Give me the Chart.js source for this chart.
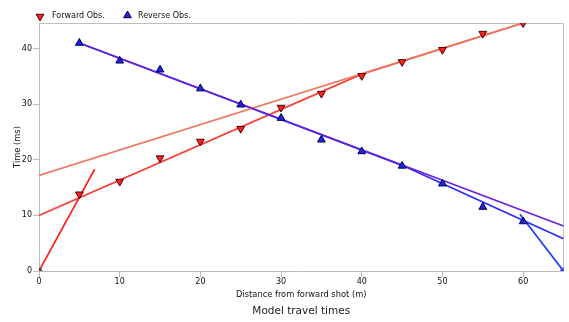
<!DOCTYPE html>
<html>
<head>
<meta charset="utf-8">
<title>Model travel times</title>
<script src="https://cdn.jsdelivr.net/npm/chart.js@4.4.0/dist/chart.umd.min.js"></script>
<style>
    html, body { margin: 0; padding: 0; background: #fff; }
    #chartContainer { width: 569px; height: 322px; }
</style>
</head>
<body>
<div id="chartContainer"><canvas id="myChart" width="569" height="322"></canvas></div>
<script>
// observed first arrivals (offset in m, time in ms)
const forwardOffsets = [5, 10, 15, 20, 25, 30, 35, 40, 45, 50, 55, 60];
const forwardTimes = [13.8, 16.1, 20.3, 23.3, 25.6, 29.4, 31.9, 35.1, 37.6, 39.8, 42.7, 44.6];
const reverseOffsets = [5, 10, 15, 20, 25, 30, 35, 40, 45, 50, 55, 60];
const reverseTimes = [41.0, 37.8, 36.2, 32.8, 29.9, 27.5, 23.6, 21.5, 18.9, 15.7, 11.5, 8.9];

// shot positions
const shotOffsets = [0, 65];
const shotTimes = [0, 0];

// model travel time curves
const fwdDirectX = [0, 6.9];
const fwdDirectT = [0, 18.3];
const fwdLayer1X = [0, 40, 60];
const fwdLayer1T = [10, 35.4, 44.6];
const fwdLayer2X = [0, 60];
const fwdLayer2T = [17.2, 44.6];
const revDirectX = [65, 59.6];
const revDirectT = [0, 10.2];
const revLayer1X = [5, 45, 65];
const revLayer1T = [41, 19.0, 5.8];
const revLayer2X = [5, 65];
const revLayer2T = [41, 8.1];

const xTicks = [0, 10, 20, 30, 40, 50, 60];
const yTicks = [0, 10, 20, 30, 40];

const axisFont = { family: 'DejaVu Sans', size: 8 };
const axisGrey = '#bdbdbd';

function pts(xs, ys) {
    return xs.map((x, i) => ({ x: x, y: ys[i] }));
}

function lineSet(xs, ys, color) {
    return {
        data: pts(xs, ys),
        showLine: true,
        borderColor: color,
        borderWidth: 1.7,
        pointRadius: 0,
        fill: false
    };
}

function triangle(ctx, x, y, r, down) {
    const s = down ? -1 : 1;
    ctx.beginPath();
    ctx.moveTo(x, y - s * r);
    ctx.lineTo(x + 0.866 * r, y + s * r / 2);
    ctx.lineTo(x - 0.866 * r, y + s * r / 2);
    ctx.closePath();
    ctx.fill();
    ctx.stroke();
}

const framePlugin = {
    id: 'frame',
    beforeDatasetsDraw(chart) {
        const a = chart.chartArea;
        const ctx = chart.ctx;
        ctx.save();
        ctx.strokeStyle = axisGrey;
        ctx.lineWidth = 1;
        ctx.beginPath();
        ctx.moveTo(a.left, Math.round(a.top) + 0.5);
        ctx.lineTo(Math.round(a.right) - 0.5, Math.round(a.top) + 0.5);
        ctx.lineTo(Math.round(a.right) - 0.5, a.bottom);
        ctx.stroke();
        ctx.restore();
    },
    afterDraw(chart) {
        const a = chart.chartArea;
        const ctx = chart.ctx;
        ctx.save();
        ctx.lineWidth = 1;
        ctx.font = '8px "DejaVu Sans"';
        ctx.textBaseline = 'middle';
        ctx.textAlign = 'left';

        ctx.fillStyle = '#ff2020';
        ctx.strokeStyle = '#500000';
        triangle(ctx, 40, 16.5, 4.5, true);
        ctx.fillStyle = '#111';
        ctx.fillText('Forward Obs.', 52, 16);

        ctx.fillStyle = '#2020e8';
        ctx.strokeStyle = '#000050';
        triangle(ctx, 127.5, 15.5, 4.5, false);
        ctx.fillStyle = '#111';
        ctx.fillText('Reverse Obs.', 138, 16);

        // caption, centred under the plot area
        ctx.font = '10.5px "DejaVu Sans"';
        ctx.textAlign = 'center';
        ctx.fillStyle = '#222';
        ctx.fillText('Model travel times', (a.left + a.right) / 2, 311);
        ctx.restore();
    }
};

const ctx = document.getElementById('myChart').getContext('2d');

new Chart(ctx, {
    type: 'scatter',
    data: {
        datasets: [
            {
                label: 'Forward Obs.',
                data: pts(forwardOffsets, forwardTimes),
                pointStyle: 'triangle',
                rotation: 180,
                pointRadius: 4.5,
                backgroundColor: '#ff2020',
                borderColor: '#500000',
                borderWidth: 1
            },
            {
                label: 'Reverse Obs.',
                data: pts(reverseOffsets, reverseTimes),
                pointStyle: 'triangle',
                pointRadius: 4.5,
                backgroundColor: '#2020e8',
                borderColor: '#000050',
                borderWidth: 1
            },
            {
                label: 'Shots',
                data: pts(shotOffsets, shotTimes),
                pointStyle: 'star',
                pointRadius: 3.5,
                borderColor: ['#333333', '#1a2aff'],
                borderWidth: 1.3
            },
            lineSet(revLayer2X, revLayer2T, '#6a22d8'),
            lineSet(fwdLayer2X, fwdLayer2T, '#ec7a62'),
            lineSet(revLayer1X, revLayer1T, '#2a2aff'),
            lineSet(fwdLayer1X, fwdLayer1T, '#f4443a'),
            lineSet(revDirectX, revDirectT, '#1e3cff'),
            lineSet(fwdDirectX, fwdDirectT, '#ff2020')
        ]
    },
    options: {
        responsive: false,
        animation: false,
        layout: { padding: { top: 23, right: 3, bottom: 22, left: 0 } },
        plugins: {
            legend: { display: false },
            tooltip: { enabled: false },
            title: { display: false }
        },
        scales: {
            x: {
                type: 'linear',
                min: 0,
                max: 65,
                afterFit: function(scale) { scale.height = 29; },
                afterBuildTicks: function(scale) { scale.ticks = xTicks.map(v => ({ value: v })); },
                ticks: { font: axisFont, color: '#111', padding: 0, maxRotation: 0 },
                grid: { drawOnChartArea: false, tickLength: 6, color: axisGrey },
                border: { color: axisGrey },
                title: {
                    display: true,
                    text: 'Distance from forward shot (m)',
                    color: '#111',
                    font: { family: 'DejaVu Sans', size: 8.3 },
                    padding: { top: 2, bottom: 0 }
                }
            },
            y: {
                type: 'linear',
                min: 0,
                max: 44.6,
                afterFit: function(scale) { scale.width = 39; },
                afterBuildTicks: function(scale) { scale.ticks = yTicks.map(v => ({ value: v })); },
                ticks: { font: axisFont, color: '#111', padding: 1 },
                grid: { drawOnChartArea: false, tickLength: 6, color: axisGrey },
                border: { color: axisGrey },
                title: {
                    display: true,
                    text: 'Time (ms)',
                    color: '#111',
                    font: { family: 'DejaVu Sans', size: 8.3 },
                    padding: { top: 13, bottom: 0 }
                }
            }
        }
    },
    plugins: [framePlugin]
});
</script>
</body>
</html>
